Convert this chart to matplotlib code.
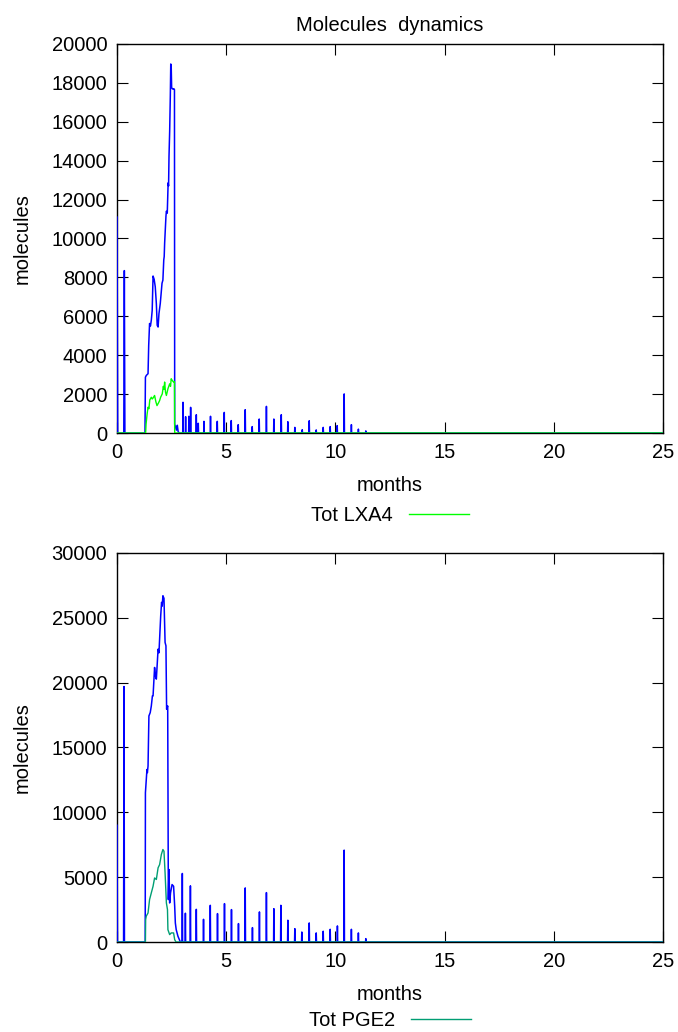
import numpy as np
import matplotlib.pyplot as plt

plt.rcParams['font.family'] = ['Liberation Sans', 'DejaVu Sans']
plt.rcParams['font.size'] = 14.5

# --- data (months, molecules) ---
# top panel: LXA4
lxa_blue_start_t = [0.0, 0.03, 0.31, 0.335, 0.36]
lxa_blue_start_v = [11100, 0, 0, 8350, 0]
lxa_blue_t = [1.28, 1.30, 1.34, 1.42, 1.45, 1.49, 1.53, 1.57, 1.61, 1.65, 1.70, 1.75,
              1.80, 1.84, 1.88, 1.92, 1.98, 2.03, 2.06, 2.10, 2.14, 2.16, 2.18, 2.24,
              2.26, 2.30, 2.34, 2.36, 2.38, 2.41, 2.44, 2.46, 2.48, 2.50, 2.53, 2.56,
              2.60, 2.63, 2.64, 2.68, 2.72, 2.76, 2.80, 2.86]
lxa_blue_v = [0, 2870, 2960, 3050, 4500, 5630, 5500, 5800, 6300, 8070, 7900, 7520,
              6660, 5540, 5450, 6140, 6660, 7350, 7700, 7860, 8900, 9070, 9760, 11140,
              11400, 11300, 12860, 12700, 14230, 15500, 17330, 18970, 18900, 17760, 17700, 17680,
              17700, 17650, 450, 300, 150, 400, 60, 0]
lxa_green_t = [1.31, 1.33, 1.38, 1.42, 1.46, 1.50, 1.57, 1.61, 1.65, 1.72, 1.78, 1.83,
               1.90, 1.95, 2.00, 2.07, 2.12, 2.15, 2.18, 2.22, 2.26, 2.33, 2.41, 2.45,
               2.48, 2.53, 2.59, 2.63, 2.64]
lxa_green_v = [0, 460, 1000, 1325, 1250, 1700, 1840, 1750, 1800, 1930, 1600, 1410,
               1550, 1670, 1850, 2010, 2400, 2250, 2620, 2100, 1930, 2270, 2530, 2400,
               2790, 2700, 2620, 2650, 0]
lxa_spike_t = [3.02, 3.14, 3.29, 3.37, 3.63, 3.72, 3.98, 4.28, 4.59, 4.91, 5.23, 5.55,
               5.87, 6.19, 6.51, 6.84, 7.18, 7.52, 7.82, 8.14, 8.48, 8.80, 9.12, 9.44,
               9.76, 10.08, 10.40, 10.73, 11.05, 11.39]
lxa_spike_v = [1580, 840, 860, 1320, 940, 500, 600, 860, 600, 1060, 640, 430,
               1200, 330, 720, 1370, 720, 940, 580, 290, 170, 630, 160, 290,
               330, 380, 2010, 430, 200, 110]

# bottom panel: PGE2
pge_blue_start_t = [0.0, 0.02, 0.30, 0.32, 0.34]
pge_blue_start_v = [9000, 0, 0, 19700, 0]
pge_blue_t = [1.29, 1.30, 1.34, 1.37, 1.39, 1.42, 1.46, 1.52, 1.57, 1.62, 1.65, 1.72,
              1.76, 1.80, 1.88, 1.92, 1.95, 2.00, 2.04, 2.07, 2.10, 2.15, 2.20, 2.24,
              2.27, 2.32, 2.35, 2.38, 2.41, 2.45, 2.52, 2.59, 2.64, 2.67, 2.71, 2.79,
              2.85, 2.90]
pge_blue_v = [0, 11510, 12540, 13300, 13060, 13570, 17430, 17690, 18200, 18980, 18980, 21170,
              20500, 20270, 22580, 22300, 23350, 25160, 26190, 25900, 26700, 26500, 23100, 22840,
              17950, 18200, 3270, 5590, 3010, 3790, 4430, 4300, 2760, 1470, 950, 440,
              200, 0]
pge_green_t = [1.30, 1.31, 1.34, 1.42, 1.49, 1.57, 1.65, 1.72, 1.80, 1.88, 1.95, 2.03,
               2.10, 2.15, 2.20, 2.26, 2.31, 2.33, 2.41, 2.48, 2.59, 2.64, 2.70]
pge_green_v = [0, 1725, 2000, 2240, 3270, 3790, 4300, 4940, 4820, 5720, 5970, 6750,
               7130, 7000, 5330, 3010, 2500, 950, 570, 700, 700, 180, 0]
pge_spike_t = [2.99, 3.13, 3.36, 3.63, 3.96, 4.27, 4.60, 4.92, 5.24, 5.56, 5.87, 6.20,
               6.52, 6.84, 7.18, 7.50, 7.82, 8.14, 8.46, 8.80, 9.12, 9.44, 9.76, 10.09,
               10.40, 10.73, 11.05, 11.39]
pge_spike_v = [5285, 2220, 4330, 2520, 1750, 2830, 2190, 2960, 2500, 1420, 4170, 1110,
               2320, 3810, 2570, 2830, 1680, 1030, 770, 1470, 700, 830, 980, 1240,
               7085, 980, 700, 260]

t_end = 25.0


def build_series(start_t, start_v, curve_t, curve_v, spike_t, spike_v, w=0.012):
    t = list(start_t) + list(curve_t)
    v = list(start_v) + list(curve_v)
    for st, sv in zip(spike_t, spike_v):
        t += [st - w, st, st + w]
        v += [0, sv, 0]
    t.append(t_end)
    v.append(0)
    return np.array(t), np.array(v)


def style_axes(ax, ymax, ystep):
    ax.set_xlim(0, 25)
    ax.set_ylim(0, ymax)
    ax.set_xticks(np.arange(0, 26, 5))
    ax.set_yticks(np.arange(0, ymax + 1, ystep))
    ax.tick_params(direction='in', length=8, width=0.8, top=True, right=True, pad=7)
    for s in ax.spines.values():
        s.set_linewidth(1.0)
    ax.set_xlabel('months', labelpad=10)
    ax.set_ylabel('molecules', labelpad=14)


fig = plt.figure(figsize=(6.78, 10.32), dpi=100)
ax1 = fig.add_axes([0.1726, 0.5804, 0.8054, 0.377])
ax2 = fig.add_axes([0.1726, 0.0872, 0.8054, 0.377])

# top panel
bt, bv = build_series(lxa_blue_start_t, lxa_blue_start_v, lxa_blue_t, lxa_blue_v,
                      lxa_spike_t, lxa_spike_v)
gt = [0.0] + lxa_green_t + [t_end]
gv = [0] + lxa_green_v + [0]
ax1.plot(bt, bv, color='#0000ff', lw=1.1, zorder=3)
g1, = ax1.plot(gt, gv, color='#00ff00', lw=1.0, label='Tot LXA4', zorder=3)
style_axes(ax1, 20000, 2000)
ax1.set_title('Molecules  dynamics', fontsize=14.5, pad=9.5)
ax1.legend(handles=[g1], loc='center', bbox_to_anchor=(0.5, -0.211),
           frameon=False, markerfirst=False, handlelength=3.0, borderpad=0)

# bottom panel
bt, bv = build_series(pge_blue_start_t, pge_blue_start_v, pge_blue_t, pge_blue_v,
                      pge_spike_t, pge_spike_v)
gt = [0.0] + pge_green_t + [t_end]
gv = [0] + pge_green_v + [0]
ax2.plot(bt, bv, color='#0000ff', lw=1.1, zorder=3)
g2, = ax2.plot(gt, gv, color='#009e73', lw=1.0, label='Tot PGE2', zorder=3)
style_axes(ax2, 30000, 5000)
ax2.legend(handles=[g2], loc='center', bbox_to_anchor=(0.5, -0.201),
           frameon=False, markerfirst=False, handlelength=3.0, borderpad=0)

fig.savefig('out.png', dpi=100)
